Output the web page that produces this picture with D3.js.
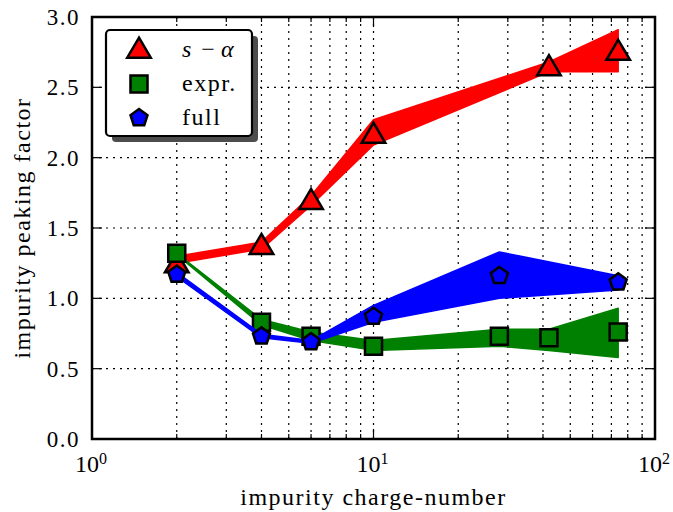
<!DOCTYPE html>
<html>
<head>
<meta charset="utf-8">
<script src="https://cdn.jsdelivr.net/npm/d3@7"></script>
<style>
  body { margin: 0; background: #fff; }
  svg { font-family: "Liberation Serif", "Times New Roman", serif; }
</style>
</head>
<body>
<div id="chart"></div>
<script>
// series data: charge number, value, band low, band high
const sAlphaZ = [2, 4, 6, 10, 42, 74];
const sAlphaVal = [1.24, 1.37, 1.69, 2.16, 2.64, 2.75];
const sAlphaLo = [1.25, 1.35, 1.66, 2.09, 2.61, 2.61];
const sAlphaHi = [1.30, 1.40, 1.73, 2.27, 2.68, 2.91];

const exprZ = [2, 4, 6, 10, 28, 42, 74];
const exprVal = [1.32, 0.83, 0.73, 0.66, 0.73, 0.72, 0.76];
const exprLo = [1.31, 0.81, 0.70, 0.63, 0.66, 0.63, 0.58];
const exprHi = [1.32, 0.85, 0.76, 0.70, 0.78, 0.78, 0.93];

const fullZ = [2, 4, 6, 10, 28, 74];
const fullVal = [1.17, 0.73, 0.69, 0.87, 1.16, 1.115];
const fullLo = [1.155, 0.72, 0.68, 0.83, 1.0, 1.06];
const fullHi = [1.185, 0.745, 0.70, 0.95, 1.33, 1.16];

const yTicks = [0, 0.5, 1.0, 1.5, 2.0, 2.5, 3.0];
const xDecades = [1, 10, 100];

const width = 673, height = 512;
const margin = { top: 17, right: 18, bottom: 72, left: 92 };

const svg = d3.select("#chart").append("svg")
  .attr("width", width)
  .attr("height", height);

const x = d3.scaleLog().domain([1, 100]).range([margin.left, width - margin.right]);
const y = d3.scaleLinear().domain([0, 3]).range([height - margin.bottom - 1, margin.top]);

const x0 = x.range()[0], x1 = x.range()[1];
const yb = y.range()[0], yt = y.range()[1];

// minor positions for log axis
const minors = [];
for (const dec of [1, 10]) for (let k = 2; k <= 9; k++) minors.push(dec * k);

// grid
const grid = svg.append("g").attr("stroke", "#000").attr("stroke-width", 1.2)
  .attr("stroke-dasharray", "2,5");
grid.selectAll(".vg").data(minors.concat([10])).join("line")
  .attr("x1", d => x(d)).attr("x2", d => x(d))
  .attr("y1", yb).attr("y2", yt);
grid.selectAll(".hg").data(yTicks.slice(1, -1)).join("line")
  .attr("x1", x0).attr("x2", x1)
  .attr("y1", d => y(d)).attr("y2", d => y(d));

function series(zs, vals, lo, hi, color, symbol, size) {
  const pts = zs.map((z, i) => ({ z, v: vals[i], lo: lo[i], hi: hi[i] }));
  const area = d3.area().x(d => x(d.z)).y0(d => y(d.lo)).y1(d => y(d.hi));
  svg.append("path").datum(pts)
    .attr("d", area)
    .attr("fill", color)
    .attr("stroke", color)
    .attr("stroke-width", 1.5)
    .attr("stroke-linejoin", "round");
  svg.append("g").selectAll("path").data(pts).join("path")
    .attr("transform", d => `translate(${x(d.z)},${y(d.v)})`)
    .attr("d", d3.symbol().type(symbol).size(size))
    .attr("fill", color)
    .attr("stroke", "#000")
    .attr("stroke-width", 2.5);
}

const pentagon = {
  draw(ctx, size) {
    const r = Math.sqrt(size / 2.38);
    for (let i = 0; i < 5; i++) {
      const a = -Math.PI / 2 + i * 2 * Math.PI / 5;
      const px = r * Math.cos(a), py = r * Math.sin(a);
      if (i === 0) ctx.moveTo(px, py); else ctx.lineTo(px, py);
    }
    ctx.closePath();
  }
};
const triangleUp = {
  draw(ctx, size) {
    const r = Math.sqrt(size / 1.3);
    ctx.moveTo(0, -r);
    ctx.lineTo(r * 0.95, r * 0.62);
    ctx.lineTo(-r * 0.95, r * 0.62);
    ctx.closePath();
  }
};

series(sAlphaZ, sAlphaVal, sAlphaLo, sAlphaHi, "#ff0000", triangleUp, 200);
series(exprZ, exprVal, exprLo, exprHi, "#008000", d3.symbolSquare, 290);
series(fullZ, fullVal, fullLo, fullHi, "#0000ff", pentagon, 190);

// ticks
const ticks = svg.append("g").attr("stroke", "#000").attr("stroke-width", 1.2);
yTicks.forEach(t => {
  ticks.append("line").attr("x1", x0).attr("x2", x0 + 10).attr("y1", y(t)).attr("y2", y(t));
  ticks.append("line").attr("x1", x1).attr("x2", x1 - 10).attr("y1", y(t)).attr("y2", y(t));
});
xDecades.forEach(t => {
  ticks.append("line").attr("x1", x(t)).attr("x2", x(t)).attr("y1", yb).attr("y2", yb - 10);
  ticks.append("line").attr("x1", x(t)).attr("x2", x(t)).attr("y1", yt).attr("y2", yt + 10);
});
minors.forEach(t => {
  ticks.append("line").attr("x1", x(t)).attr("x2", x(t)).attr("y1", yb).attr("y2", yb - 5);
  ticks.append("line").attr("x1", x(t)).attr("x2", x(t)).attr("y1", yt).attr("y2", yt + 5);
});

// frame
svg.append("rect")
  .attr("x", x0).attr("y", yt)
  .attr("width", x1 - x0).attr("height", yb - yt)
  .attr("fill", "none").attr("stroke", "#000").attr("stroke-width", 2.5);

// tick labels
svg.append("g").selectAll("text").data(yTicks).join("text")
  .attr("x", x0 - 12).attr("y", d => y(d) + 8)
  .attr("text-anchor", "end")
  .attr("font-size", 23)
  .attr("letter-spacing", 1.5)
  .text(d => d.toFixed(1));

const xl = svg.append("g").selectAll("text").data(xDecades).join("text")
  .attr("x", d => x(d) - 17).attr("y", yb + 33)
  .attr("font-size", 24);
xl.append("tspan").text("10");
xl.append("tspan").attr("dy", -8).attr("font-size", 16).text(d => Math.round(Math.log10(d)));

// axis labels
svg.append("text")
  .attr("x", (x0 + x1) / 2).attr("y", 505)
  .attr("text-anchor", "middle").attr("font-size", 24)
  .attr("letter-spacing", 1.5)
  .text("impurity charge-number");
svg.append("text")
  .attr("transform", `translate(30,${(yt + yb) / 2}) rotate(-90)`)
  .attr("text-anchor", "middle").attr("font-size", 24)
  .attr("letter-spacing", 1.5)
  .text("impurity peaking factor");

// legend
const lg = svg.append("g").attr("transform", "translate(106,30)");
lg.append("rect").attr("x", 6).attr("y", 6).attr("width", 146).attr("height", 106)
  .attr("rx", 4).attr("fill", "#4d4d4d");
lg.append("rect").attr("width", 146).attr("height", 106)
  .attr("rx", 4).attr("fill", "#fff").attr("stroke", "#000").attr("stroke-width", 2.2);

const legendItems = [
  { color: "#ff0000", symbol: triangleUp, size: 200 },
  { color: "#008000", symbol: d3.symbolSquare, size: 290 },
  { color: "#0000ff", symbol: pentagon, size: 190 }
];
legendItems.forEach((d, i) => {
  lg.append("path")
    .attr("transform", `translate(33,${20 + i * 34})`)
    .attr("d", d3.symbol().type(d.symbol).size(d.size))
    .attr("fill", d.color).attr("stroke", "#000").attr("stroke-width", 2.5);
});
const t0 = lg.append("text").attr("x", 76).attr("y", 27).attr("font-size", 24);
t0.append("tspan").attr("font-style", "italic").text("s");
t0.append("tspan").attr("dx", 10).text("\u2212");
t0.append("tspan").attr("dx", 6).attr("font-style", "italic").text("\u03b1");
lg.append("text").attr("x", 76).attr("y", 61).attr("font-size", 24)
  .attr("letter-spacing", 1.5).text("expr.");
lg.append("text").attr("x", 76).attr("y", 95).attr("font-size", 24)
  .attr("letter-spacing", 1.5).text("full");
</script>
</body>
</html>
